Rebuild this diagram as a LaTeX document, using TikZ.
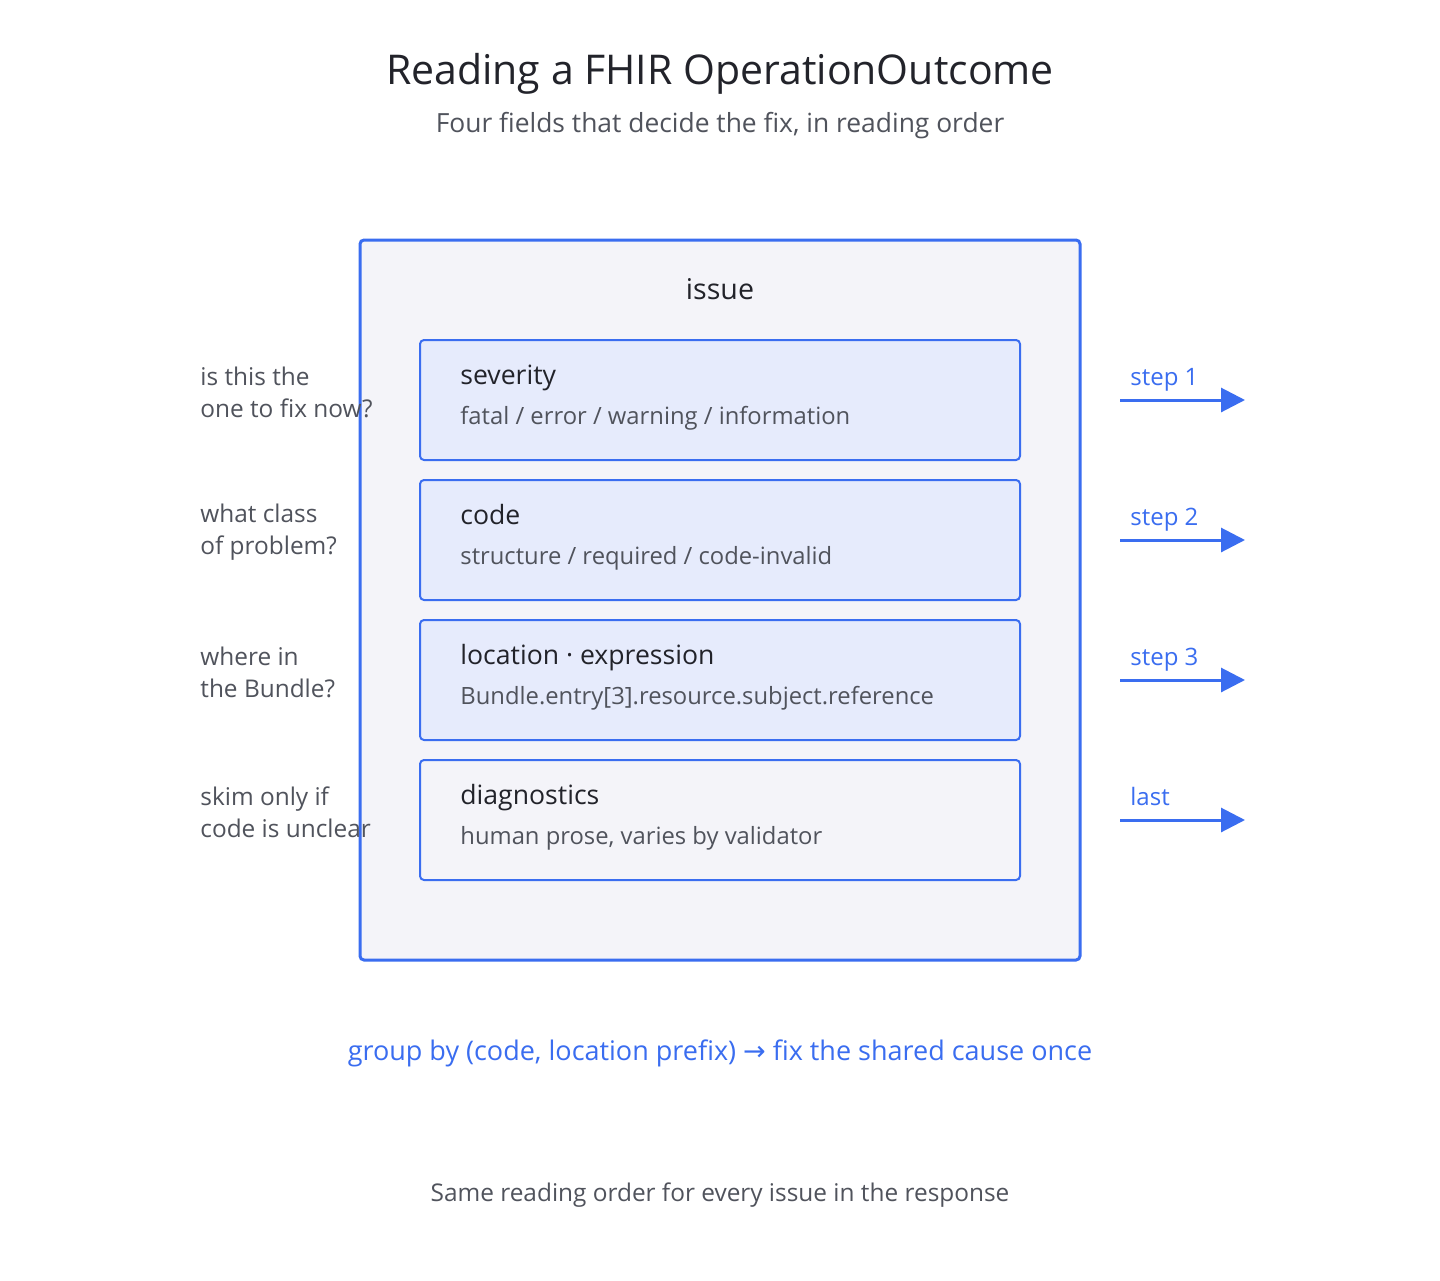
\documentclass[tikz,border=0pt]{standalone}
\usepackage{fontspec}
\setmainfont{Open Sans}
\newfontfamily\symfont{DejaVu Sans}
\usetikzlibrary{arrows.meta}

\definecolor{issueblue}{HTML}{3A6DF0}
\definecolor{issuefill}{HTML}{F4F4F9}
\definecolor{fieldfill}{HTML}{E6EBFC}
\definecolor{darktext}{HTML}{22232A}
\definecolor{greytext}{HTML}{50535C}

\tikzset{
  fieldbox/.style={draw=issueblue, line width=1pt, rounded corners=2pt, fill=fieldfill},
  fieldname/.style={anchor=base west, inner sep=0pt, text=darktext, font=\fontsize{13.3pt}{16pt}\selectfont},
  fieldvals/.style={anchor=base west, inner sep=0pt, text=greytext, font=\fontsize{11.9pt}{14pt}\selectfont},
  question/.style={anchor=west, inner sep=0pt, align=left, text=greytext, font=\fontsize{12.2pt}{16pt}\selectfont},
  steplabel/.style={anchor=base west, inner sep=0pt, text=issueblue, font=\fontsize{12pt}{14pt}\selectfont},
  steparrow/.style={draw=issueblue, line width=1.5pt, -{Triangle[length=12pt,width=12pt]}}
}

\begin{document}
\begin{tikzpicture}[x=0.5pt, y=-0.5pt]
      \useasboundingbox[fill=white] (0, 0) rectangle (1440, 1280);

      % Titles
      \node[inner sep=0pt, anchor=base, text=darktext, font=\fontsize{20.5pt}{24pt}\selectfont] (title) at (720, 84) {Reading a FHIR OperationOutcome};
      \node[inner sep=0pt, anchor=base, text=greytext, font=\fontsize{13.2pt}{16pt}\selectfont] (subtitle) at (720, 132) {Four fields that decide the fix, in reading order};

      % Issue box
      \draw[issueblue, line width=1.5pt, rounded corners=2pt, fill=issuefill] (360, 240) rectangle (1080, 960);
      \node[inner sep=0pt, anchor=base, text=darktext, font=\fontsize{14.3pt}{17pt}\selectfont] (issue) at (720, 299) {issue};

      % Row 1
      \draw[fieldbox] (420, 340) rectangle (1020, 460);
      \node[fieldname] (severity) at (460, 384) {severity};
      \node[fieldvals] (severityvals) at (460, 424) {fatal / error / warning / information};
      \node[question] (q1) at (200, 392) {is this the\\one to fix now?};
      \node[steplabel] (s1) at (1130, 385) {step 1};
      \coordinate (a1) at (1120, 400); \coordinate (b1) at (1245, 400);
      \draw[steparrow] (a1) -- (b1);

      % Row 2
      \draw[fieldbox] (420, 480) rectangle (1020, 600);
      \node[fieldname] (code) at (460, 524) {code};
      \node[fieldvals] (codevals) at (460, 564) {structure / required / code-invalid};
      \node[question] (q2) at (200, 532) {what class\\of problem?};
      \node[steplabel] (s2) at (1130, 525) {step 2};
      \coordinate (a2) at (1120, 540); \coordinate (b2) at (1245, 540);
      \draw[steparrow] (a2) -- (b2);

      % Row 3
      \draw[fieldbox] (420, 620) rectangle (1020, 740);
      \node[fieldname] (location) at (460, 664) {location · expression};
      \node[fieldvals] (locationvals) at (460, 704) {Bundle.entry[3].resource.subject.reference};
      \node[question] (q3) at (200, 672) {where in\\the Bundle?};
      \node[steplabel] (s3) at (1130, 665) {step 3};
      \coordinate (a3) at (1120, 680); \coordinate (b3) at (1245, 680);
      \draw[steparrow] (a3) -- (b3);

      % Row 4
      \draw[fieldbox, fill=issuefill] (420, 760) rectangle (1020, 880);
      \node[fieldname] (diagnostics) at (460, 804) {diagnostics};
      \node[fieldvals] (diagnosticsvals) at (460, 844) {human prose, varies by validator};
      \node[question] (q4) at (200, 812) {skim only if\\code is unclear};
      \node[steplabel] (s4) at (1130, 805) {last};
      \coordinate (a4) at (1120, 820); \coordinate (b4) at (1245, 820);
      \draw[steparrow] (a4) -- (b4);

      % Notes
      \node[inner sep=0pt, anchor=base, text=issueblue, font=\fontsize{13.5pt}{16pt}\selectfont] (groupnote) at (720, 1060) {group by (code, location prefix) {\symfont →} fix the shared cause once};
      \node[inner sep=0pt, anchor=base, text=greytext, font=\fontsize{12.2pt}{15pt}\selectfont] (footer) at (720, 1201) {Same reading order for every issue in the response};
    \end{tikzpicture}
\end{document}
